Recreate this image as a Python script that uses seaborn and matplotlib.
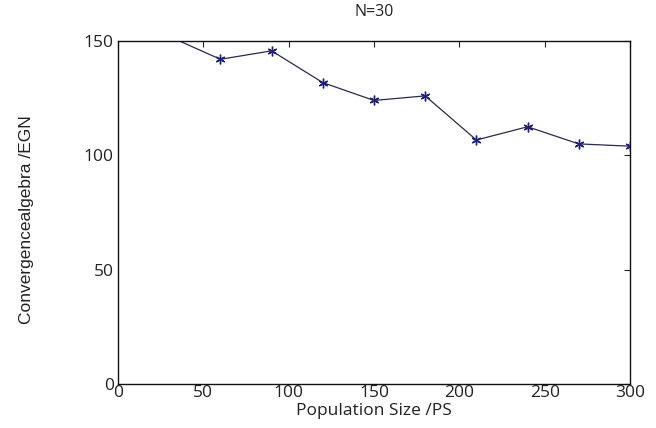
import matplotlib
matplotlib.use("Agg")
import matplotlib.pyplot as plt
import seaborn as sns
import pandas as pd

pop_size = [30, 60, 90, 120, 150, 180, 210, 240, 270, 300]
egn = [152, 142, 145.7, 131.8, 124, 126, 106.7, 112.5, 105, 104]
x_ticks = [0, 50, 100, 150, 200, 250, 300]
y_ticks = [0, 50, 100, 150]

sns.set_style("white")
plt.rcParams['font.family'] = ['Open Sans', 'DejaVu Sans']

df = pd.DataFrame({"PS": pop_size, "EGN": egn})

fig = plt.figure(figsize=(6.56, 4.28), dpi=100)
ax = fig.add_axes([118/656, 1 - 384/428, (630-118)/656, (384-41)/428])
sns.lineplot(data=df, x="PS", y="EGN", ax=ax, color="#2a2a4a", linewidth=0.9,
             marker=(6, 2, 0), markersize=7, markeredgewidth=1.0,
             markeredgecolor="#1f1f7a", markerfacecolor="#1f1f7a")
ax.set_xlim(0, 300)
ax.set_ylim(0, 150)
ax.set_xticks(x_ticks)
ax.set_yticks(y_ticks)
ax.tick_params(direction="in", top=True, right=True, length=4, width=0.8,
               labelsize=12.5, colors="#222222")
ax.tick_params(axis="x", pad=1)
ax.tick_params(axis="y", pad=3)
for s in ax.spines.values():
    s.set_linewidth(1.0)
    s.set_color("#111111")
ax.set_xlabel("Population Size /PS", fontsize=12.5, labelpad=1, color="#222222")
ax.set_ylabel("Convergencealgebra /EGN", fontsize=12.5,
              color="#222222", family=['Liberation Sans Narrow', 'Liberation Sans'])
ax.yaxis.set_label_coords(-0.165, 0.48)
ax.set_title("N=30", fontsize=11.5, pad=18, color="#222222")
fig.savefig("out.png", dpi=100)
